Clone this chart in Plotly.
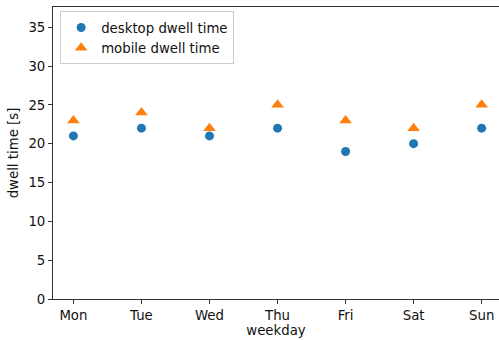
import plotly.graph_objects as go

weekdays = ["Mon", "Tue", "Wed", "Thu", "Fri", "Sat", "Sun"]
desktop_dwell = [21, 22, 21, 22, 19, 20, 22]
mobile_dwell = [23, 24, 22, 25, 23, 22, 25]
y_ticks = [0, 5, 10, 15, 20, 25, 30, 35]

font = dict(family="DejaVu Sans", size=13.3, color="#111")

fig = go.Figure()
fig.add_trace(go.Scatter(
    x=list(range(len(weekdays))), y=desktop_dwell, mode="markers",
    name="desktop dwell time",
    marker=dict(symbol="circle", size=9, color="#1f77b4"),
))
fig.add_trace(go.Scatter(
    x=list(range(len(weekdays))), y=mobile_dwell, mode="markers",
    name="mobile dwell time",
    marker=dict(symbol="triangle-up", size=11, color="#ff7f0e"),
))

fig.update_layout(
    width=499, height=340,
    margin=dict(l=53, r=0, t=7, b=41),
    paper_bgcolor="white", plot_bgcolor="white",
    font=font,
    showlegend=True,
    legend=dict(
        x=0.016, y=0.985, xanchor="left", yanchor="top",
        bgcolor="rgba(255,255,255,0.8)", bordercolor="#ccc", borderwidth=1,
        font=font,
        itemwidth=30, tracegroupgap=0,
    ),
    xaxis=dict(
        range=[-0.3, 6.255],
        tickmode="array", tickvals=list(range(len(weekdays))), ticktext=weekdays,
        showgrid=False, zeroline=False,
        showline=True, linecolor="#333", linewidth=1, mirror=True,
        ticks="outside", ticklen=4, tickcolor="#333",
        title=dict(text="weekday", font=font, standoff=3),
    ),
    yaxis=dict(
        range=[0, 37.6],
        tickmode="array", tickvals=y_ticks,
        showgrid=False, zeroline=False,
        showline=True, linecolor="#333", linewidth=1,
        ticks="outside", ticklen=4, tickcolor="#333",
        title=dict(text="dwell time [s]", font=font, standoff=6),
    ),
)

fig.write_html("out.html", config={"displayModeBar": False},
               post_script="document.body.style.margin='0';")
